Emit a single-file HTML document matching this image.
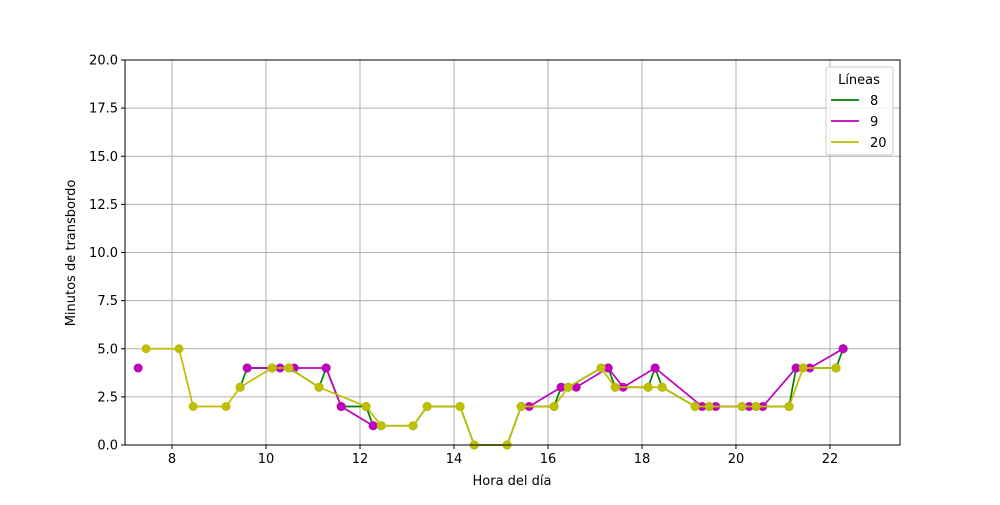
<!DOCTYPE html>
<html><head><meta charset="utf-8"><style>
body{margin:0;background:#fff;font-family:"Liberation Sans","DejaVu Sans",sans-serif}
</style></head><body>
<svg id="c" width="1000" height="500" xmlns="http://www.w3.org/2000/svg" font-family="DejaVu Sans, Liberation Sans, sans-serif"></svg>
<script>
const xTicks=[8,10,12,14,16,18,20,22];
const yTicks=[0,2.5,5,7.5,10,12.5,15,17.5,20];
const s8x=[9.45,9.60,10.13,10.49,11.13,11.28,11.60,12.13,12.28,12.45,13.13,13.43,14.13,14.43,15.13,15.43,16.13,16.28,16.43,17.13,17.28,17.43,18.13,18.28,18.43,19.13,19.43,20.13,20.43,21.13,21.28,21.43,22.13,22.28];
const s8y=[3,4,4,4,3,4,2,2,1,1,1,2,2,0,0,2,2,3,3,4,4,3,3,4,3,2,2,2,2,2,4,4,4,5];
const s9x=[[7.28],[9.60,10.30,10.60,11.28,11.60,12.28],[15.60,16.28,16.60,17.28,17.60,18.28,19.28,19.57,20.28,20.57,21.28,21.57,22.28]];
const s9y=[[4],[4,4,4,4,2,1],[2,3,3,4,3,4,2,2,2,2,4,4,5]];
const s20x=[7.45,8.15,8.45,9.15,9.45,10.13,10.49,11.13,12.13,12.45,13.13,13.43,14.13,14.43,15.13,15.43,16.13,16.43,17.13,17.43,18.13,18.43,19.13,19.43,20.13,20.43,21.13,21.43,22.13];
const s20y=[5,5,2,2,3,4,4,3,2,1,1,2,2,0,0,2,2,3,4,3,3,3,2,2,2,2,2,4,4];
const L=125,R=900,T=60,B=445,X0=7,X1=23.49,Y0=0,Y1=20;
const X=v=>L+(v-X0)/(X1-X0)*(R-L), Y=v=>B-(v-Y0)/(Y1-Y0)*(B-T);
const svg=document.getElementById('c');const NS='http://www.w3.org/2000/svg';
function mk(t,a,p){const e=document.createElementNS(NS,t);for(const k in a)e.setAttribute(k,a[k]);(p||svg).appendChild(e);return e;}
const grid=mk('g',{});


xTicks.forEach(t=>{mk('line',{x1:X(t),x2:X(t),y1:T,y2:B,stroke:'#b0b0b0','stroke-width':1},grid);
 mk('line',{x1:X(t),x2:X(t),y1:B,y2:B+4,stroke:'#000'});
 const tx=mk('text',{x:X(t),y:B+18,'text-anchor':'middle','font-size':13});tx.textContent=t;
 
 });
yTicks.forEach(t=>{mk('line',{x1:L,x2:R,y1:Y(t),y2:Y(t),stroke:'#b0b0b0','stroke-width':1},grid);
 mk('line',{x1:L-4,x2:L,y1:Y(t),y2:Y(t),stroke:'#000'});
 const tx=mk('text',{x:L-7,y:Y(t)+4.5,'text-anchor':'end','font-size':13});tx.textContent=t.toFixed(1);
 
 });
function series(xs,ys,col,name){const g=mk('g',{});
 
 
 mk('polyline',{points:xs.map((x,i)=>X(x)+','+Y(ys[i])).join(' '),fill:'none',stroke:col,'stroke-width':1.7},g);
 xs.forEach((x,i)=>mk('circle',{cx:X(x),cy:Y(ys[i]),r:4.5,fill:col},g));}
series(s8x,s8y,'#008000','series-8');
s9x.forEach((xs,i)=>series(xs,s9y[i],'#bf00bf','series-9'));
series(s20x,s20y,'#bfbf00','series-20');
mk('rect',{x:L,y:T,width:R-L,height:B-T,fill:'none',stroke:'#000','stroke-width':1});
let t=mk('text',{x:512,y:485,'text-anchor':'middle','font-size':13});t.textContent='Hora del día';

t=mk('text',{x:75,y:253,'text-anchor':'middle','font-size':13,transform:'rotate(-90 75 253)'});t.textContent='Minutos de transbordo';

const lg=mk('g',{});


mk('rect',{x:826,y:67,width:67,height:88,rx:3,fill:'#fff','fill-opacity':0.8,stroke:'#ccc'},lg);
t=mk('text',{x:859,y:84,'text-anchor':'middle','font-size':13},lg);t.textContent='Líneas';
[['8','#008000'],['9','#bf00bf'],['20','#bfbf00']].forEach((d,i)=>{const y=100+i*21;
 mk('line',{x1:831,x2:859,y1:y,y2:y,stroke:d[1],'stroke-width':1.7},lg);
 const e=mk('text',{x:870,y:y+5,'font-size':13},lg);e.textContent=d[0];
 
 });
</script>
</body></html>
